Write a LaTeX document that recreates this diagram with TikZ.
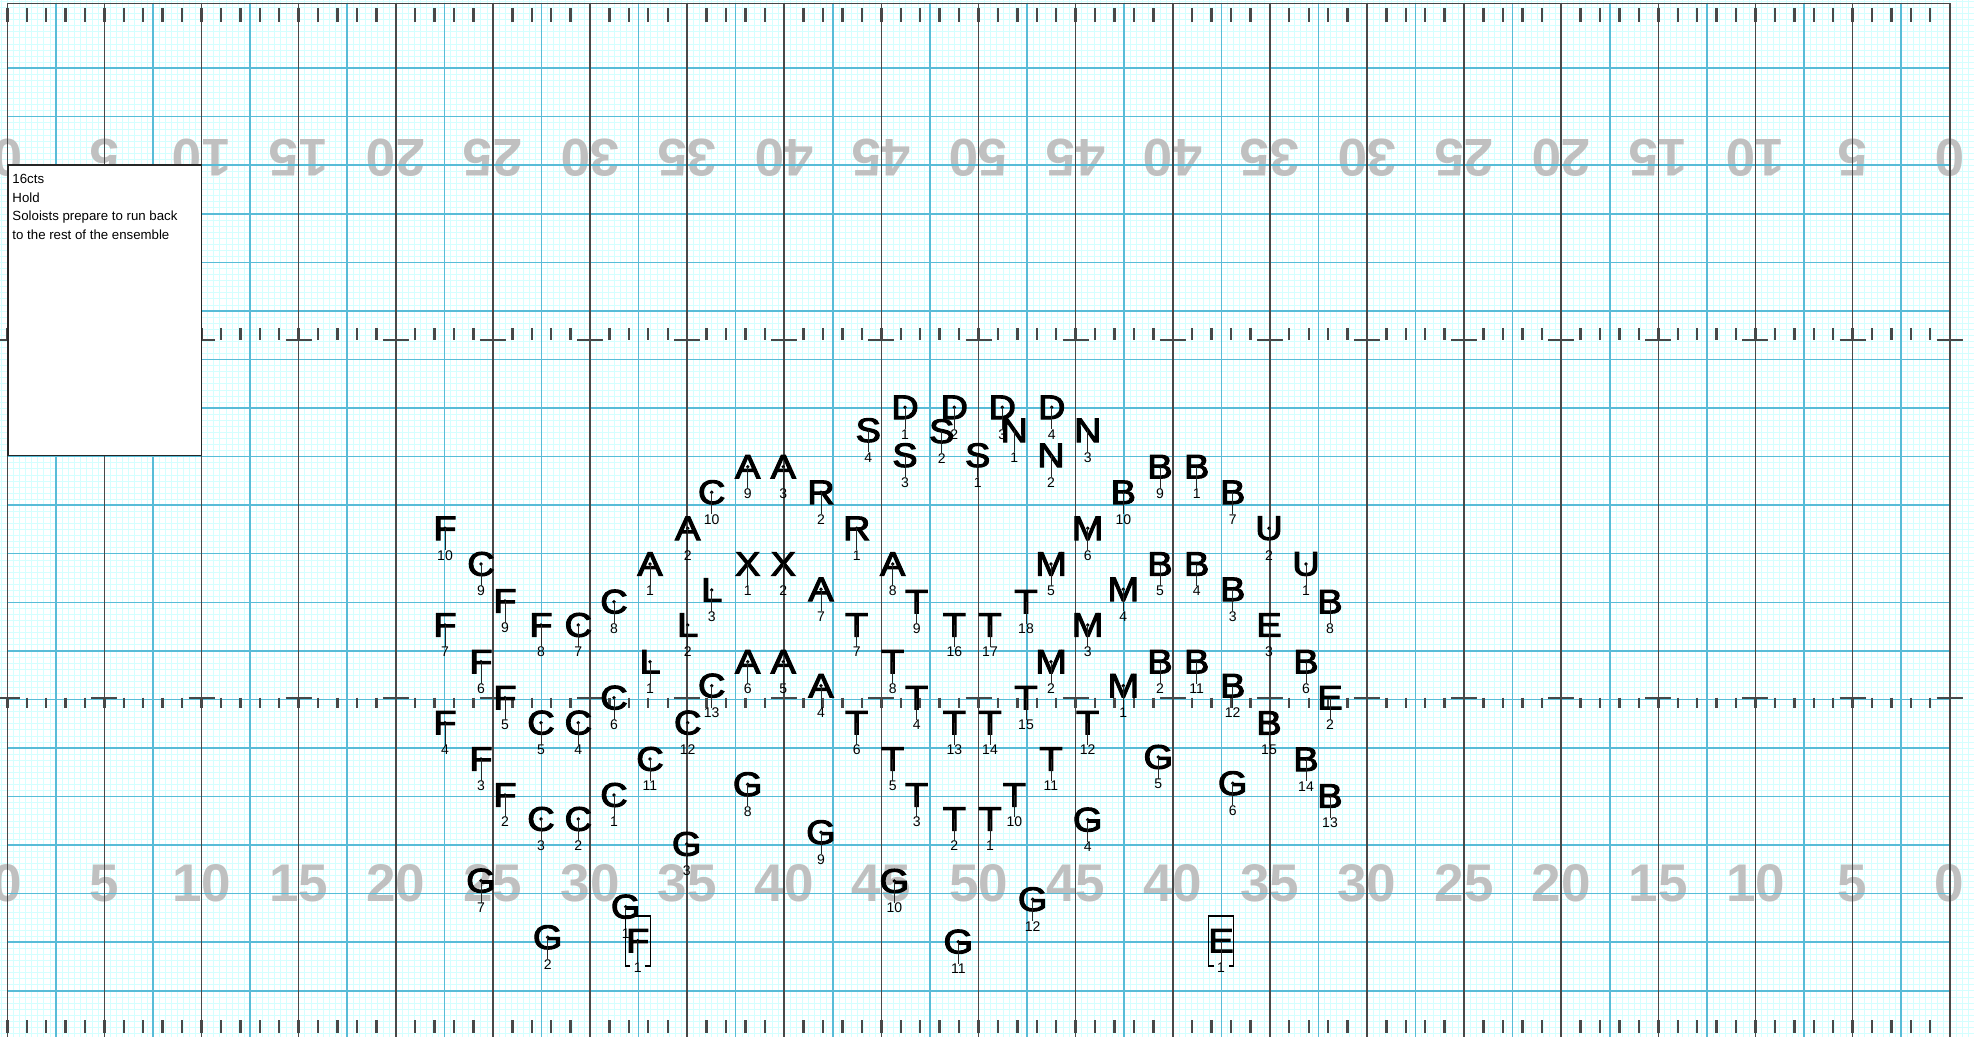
\documentclass[tikz,border=0pt]{standalone}
\usepackage{fontspec}
\setmainfont{Liberation Sans}
\newfontfamily\perffont[FakeStretch=1.12,FakeBold=3]{Liberation Sans}
\usetikzlibrary{calc}
\definecolor{lightgrid}{RGB}{212,255,255}
\definecolor{majorblue}{RGB}{88,188,215}
\definecolor{yardgray}{RGB}{72,72,72}
\definecolor{numgray}{RGB}{192,192,192}
\tikzset{
 lightline/.style={draw=lightgrid, line width=0.55pt},
 blueline/.style={draw=majorblue, line width=1.5pt},
 yardline/.style={draw=yardgray, line width=1.6pt},
 tickmark/.style={draw=yardgray, line width=2.4pt},
 hashseg/.style={draw=yardgray, line width=1.8pt},
 yardnum/.style={text=numgray, font=\fontsize{53}{53}\selectfont\bfseries, inner sep=0pt},
 perfletter/.style={font=\perffont\fontsize{34}{34}\selectfont, inner sep=0pt},
 perfnum/.style={font=\fontsize{14}{14}\selectfont, inner sep=0pt},
 perfdot/.style={circle, fill=black, inner sep=0pt, minimum size=3.8pt},
 stem/.style={draw=black!85, line width=1pt},
 boxline/.style={draw=black, line width=1.4pt},
 notebox/.style={draw=black!85, fill=white, line width=1.3pt, inner sep=0pt, anchor=north west},
 notetext/.style={font=\fontsize{13.25}{15}\selectfont, inner sep=0pt, anchor=base west},
}
\newcommand\pf[4]{%
  \node[perfletter] (#1#2) at (#3,#4) {#1};
  \node[perfdot] (#1#2d) at (#3,#4) {};
  \node[perfnum] (#1#2n) at (#3,#4+27) {#2};
  \draw[stem] (#1#2d.center) -- (#1#2n.north);
}
\newcommand\boxit[1]{%
  \draw[boxline] ($(#1)+(-7.5,25.3)$) -| ($(#1)+(-12.5,-24.7)$) -| ($(#1)+(12.5,25.3)$) -- ($(#1)+(7.5,25.3)$);
}
\begin{document}
\begin{tikzpicture}[x=1pt, y=-1pt]
\useasboundingbox (0,0) rectangle (1974,1037);
\clip (0,0) rectangle (1974,1037);
\fill[white] (0,0) rectangle (1974,1037);
% light grid
\foreach \k in {-2,...,324} \draw[lightline] ({7.3+6.07*\k},0) -- ({7.3+6.07*\k},1037);
\foreach \k in {1,...,171} \draw[lightline] (0,{1039.3-6.07*\k}) -- (1974,{1039.3-6.07*\k});
% yard numbers
\foreach \i/\n in {0/0,1/5,2/10,3/15,4/20,5/25,6/30,7/35,8/40,9/45,10/50,11/45,12/40,13/35,14/30,15/25,16/20,17/15,18/10,19/5,20/0} {
  \node[yardnum] (bn\i) at ({7.3+97.12*\i},883.3) {\n};
  \node[yardnum, rotate=180] (tn\i) at ({7.3+97.12*\i},157.3) {\n};
}
% major blue grid
\foreach \i in {0,...,40} \draw[blueline] ({7.3+48.56*\i},3.3) -- ({7.3+48.56*\i},1037);
\foreach \k in {1,...,20} \draw[blueline] (7.3,{1039.3-48.56*\k}) -- (1949.7,{1039.3-48.56*\k});
% yard lines
\foreach \i in {0,...,20} \draw[yardline] ({7.3+97.12*\i},3.3) -- ({7.3+97.12*\i},1037);
\draw[yardline] (7.3,3.3) -- (1949.7,3.3);
% ticks
\foreach \j in {0,...,100} {
  \pgfmathsetmacro\xx{7.3+19.424*\j}
  \draw[tickmark] (\xx,8.3) -- (\xx,21.7);
  \draw[tickmark] (\xx,1020) -- (\xx,1033.3);
  \draw[tickmark] (\xx,328.3) -- (\xx,340);
  \draw[tickmark] (\xx,697.7) -- (\xx,708.3);
}
\foreach \i in {0,...,20} {
  \draw[hashseg] ({7.3+97.12*\i-13},340) -- ({7.3+97.12*\i+13},340);
  \draw[hashseg] ({7.3+97.12*\i-13},697.7) -- ({7.3+97.12*\i+13},697.7);
}
% note box
\node[notebox, minimum width=193.7pt, minimum height=290.7pt] (note) at (7.3,164.3) {};
\node[notetext] (note1) at (12.3,183.7) {16cts};
\node[notetext] (note2) at (12.3,202.3) {Hold};
\node[notetext] (note3) at (12.3,220.8) {Soloists prepare to run back};
\node[notetext] (note4) at (12.3,239.4) {to the rest of the ensemble};
% performers
\pf{D}{1}{905}{407.3}
\pf{D}{2}{954.3}{407.3}
\pf{D}{3}{1002.3}{407.3}
\pf{D}{4}{1051.7}{407.3}
\pf{S}{4}{868.3}{430.3}
\pf{S}{3}{905}{455.3}
\pf{S}{2}{941.7}{431.3}
\pf{S}{1}{977.7}{455.3}
\pf{N}{1}{1014.3}{430.3}
\pf{N}{2}{1051}{455.3}
\pf{N}{3}{1087.7}{430.3}
\pf{A}{9}{747.7}{466.7}
\pf{A}{3}{783.3}{466.7}
\pf{C}{10}{711.7}{492.3}
\pf{R}{2}{821}{492.3}
\pf{R}{1}{856.7}{528.3}
\pf{B}{10}{1123.3}{492.3}
\pf{B}{9}{1160}{466.7}
\pf{B}{1}{1196.7}{466.7}
\pf{B}{7}{1232.7}{492.3}
\pf{A}{2}{687.7}{528.3}
\pf{F}{10}{445}{528.3}
\pf{M}{6}{1087.7}{528.3}
\pf{U}{2}{1269}{528.3}
\pf{U}{1}{1306}{564}
\pf{C}{9}{481}{564}
\pf{A}{1}{650}{564}
\pf{X}{1}{747.7}{564}
\pf{X}{2}{783.3}{564}
\pf{A}{8}{892.7}{564}
\pf{M}{5}{1051}{564}
\pf{B}{5}{1160}{564}
\pf{B}{4}{1196.7}{564}
\pf{F}{9}{505}{601}
\pf{C}{8}{614}{601.7}
\pf{L}{3}{711.7}{590}
\pf{A}{7}{821}{589.3}
\pf{T}{9}{916.7}{601.7}
\pf{T}{18}{1026}{601.7}
\pf{M}{4}{1123.3}{589.3}
\pf{B}{3}{1232.7}{589.3}
\pf{B}{8}{1330}{601.7}
\pf{F}{7}{445}{625}
\pf{F}{8}{541}{625}
\pf{C}{7}{578.3}{625}
\pf{L}{2}{687.7}{625}
\pf{T}{7}{856.7}{625}
\pf{T}{16}{954.3}{625}
\pf{T}{17}{990}{625}
\pf{M}{3}{1087.7}{625}
\pf{E}{3}{1269}{625}
\pf{F}{6}{481}{661.7}
\pf{L}{1}{650}{661.7}
\pf{A}{6}{747.7}{661.7}
\pf{A}{5}{783.3}{661.7}
\pf{T}{8}{892.7}{661.7}
\pf{M}{2}{1051}{661.7}
\pf{B}{2}{1160}{661.7}
\pf{B}{11}{1196.7}{661.7}
\pf{B}{6}{1306}{661.7}
\pf{F}{5}{505}{697.7}
\pf{C}{6}{614}{697.7}
\pf{C}{13}{711.7}{685.7}
\pf{A}{4}{821}{685.7}
\pf{T}{4}{916.7}{697.7}
\pf{T}{15}{1026}{697.7}
\pf{M}{1}{1123.3}{685.7}
\pf{B}{12}{1232.7}{685.7}
\pf{E}{2}{1330}{697.7}
\pf{F}{4}{445}{722.7}
\pf{C}{5}{541}{722.7}
\pf{C}{4}{578.3}{722.7}
\pf{C}{12}{687.7}{722.7}
\pf{T}{6}{856.7}{722.7}
\pf{T}{13}{954.3}{722.7}
\pf{T}{14}{990}{722.7}
\pf{T}{12}{1087.7}{722.7}
\pf{B}{15}{1269}{723}
\pf{F}{3}{481}{759}
\pf{C}{11}{650}{759}
\pf{T}{5}{892.7}{759}
\pf{T}{11}{1051}{759}
\pf{G}{5}{1158.3}{757}
\pf{B}{14}{1306}{759.3}
\pf{F}{2}{505}{795}
\pf{C}{3}{541}{819}
\pf{C}{2}{578.3}{819}
\pf{C}{1}{614}{795}
\pf{G}{8}{747.7}{784.3}
\pf{T}{3}{916.7}{795}
\pf{T}{10}{1014.3}{795}
\pf{G}{6}{1232.7}{783.3}
\pf{B}{13}{1330}{796}
\pf{G}{3}{686.7}{844}
\pf{G}{9}{821}{832.3}
\pf{T}{2}{954.3}{819}
\pf{T}{1}{990}{819}
\pf{G}{4}{1087.7}{819.7}
\pf{G}{7}{481}{880.7}
\pf{G}{10}{894.3}{881}
\pf{G}{12}{1032.7}{899.3}
\pf{G}{1}{625.7}{906.7}
\pf{G}{2}{547.7}{937.3}
\pf{F}{1}{637.7}{940.7}
\boxit{F1d}
\pf{G}{11}{958.3}{941.7}
\pf{E}{1}{1221}{940.7}
\boxit{E1d}
\end{tikzpicture}
\end{document}
